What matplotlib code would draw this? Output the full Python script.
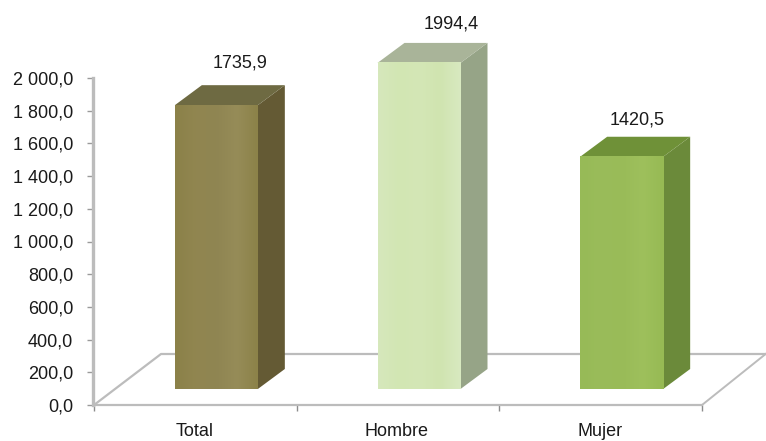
import matplotlib
matplotlib.use('Agg')
import numpy as np
import matplotlib.pyplot as plt
from matplotlib.colors import LinearSegmentedColormap
from matplotlib.patches import Polygon

plt.rcParams['font.family'] = ['Liberation Sans Narrow', 'Liberation Sans', 'DejaVu Sans']

categories = ['Total', 'Hombre', 'Mujer']
values = [1735.9, 1994.4, 1420.5]
yticks = [0, 200, 400, 600, 800, 1000, 1200, 1400, 1600, 1800, 2000]

# light/dark shades per bar
front_colors = [['#8b8149', '#918650', '#8f8552', '#968c58', '#8c8249'],
                ['#d6e8bc', '#d2e6b3', '#d4e7b6', '#d0e4b0', '#d8e9c0'],
                ['#97ba57', '#9abc5a', '#99bb58', '#9ec05c', '#97ba54']]
side_colors = ['#645a34', '#96a487', '#6b8a3a']
top_colors = ['#6e6a42', '#a9b499', '#6f9138']
label_offsets = [(24, 42), (32, 39), (15, 37)]

fig = plt.figure(figsize=(7.66, 4.41), dpi=100)
ax = fig.add_axes([94 / 766, 1 - 405 / 441, 608 / 766, 327 / 441])
ax.set_xlim(-0.5, 2.5)
ax.set_ylim(0, 2000)

# px -> data
px_x = 3 / 608
px_y = 2000 / 327
lift = 16 * px_y
shift = 21 * px_x
half = 41.5 * px_x
dx = 27 * px_x
dy = 20 * px_y

# floor of the 3d box
line_col = '#bcbcbc'
fx = 67 * px_x
fy = 51 * px_y
ax.plot([-0.5, -0.5 + fx, 2.5 + fx * 0.95], [0, fy, fy], color=line_col, lw=1.6, clip_on=False, zorder=1)
ax.plot([2.5, 2.5 + fx * 0.95], [0, fy], color=line_col, lw=1.4, clip_on=False, zorder=1)

for i, v in enumerate(values):
    x0 = i + shift - half
    x1 = i + shift + half
    y0 = lift
    y1 = lift + v
    cmap = LinearSegmentedColormap.from_list('b%d' % i, front_colors[i])
    ax.bar(i + shift, v, width=2 * half, bottom=lift, color=front_colors[i][1], zorder=3, clip_on=False)
    ax.imshow(np.linspace(0, 1, 60).reshape(1, -1), extent=[x0, x1, y0, y1], aspect='auto',
              cmap=cmap, zorder=3.1, clip_on=False)
    ax.add_patch(Polygon([[x1, y0], [x1 + dx, y0 + dy], [x1 + dx, y1 + dy], [x1, y1]],
                         facecolor=side_colors[i], edgecolor='none', zorder=3, clip_on=False))
    ax.add_patch(Polygon([[x0, y1], [x0 + dx, y1 + dy], [x1 + dx, y1 + dy], [x1, y1]],
                         facecolor=top_colors[i], edgecolor='none', zorder=3, clip_on=False))
    ax.annotate(('%.1f' % v).replace('.', ','), (i + shift, y1), xytext=label_offsets[i],
                textcoords='offset pixels', ha='center', va='center', fontsize=13, color='#1a1a1a',
                annotation_clip=False)

ax.set_xlim(-0.5, 2.5)
ax.set_ylim(0, 2000)

for s in ['top', 'right']:
    ax.spines[s].set_visible(False)
for s in ['left', 'bottom']:
    ax.spines[s].set_color(line_col)
    ax.spines[s].set_zorder(4)
ax.spines['left'].set_linewidth(2.4)
ax.spines['left'].set_position(('outward', 1))
ax.spines['bottom'].set_linewidth(1.6)

ax.set_yticks(yticks)
ax.set_yticklabels([('%d %03d,0' % (t // 1000, t % 1000)) if t >= 1000 else '%d,0' % t for t in yticks])
ax.set_xticks([-0.5, 0.5, 1.5, 2.5])
ax.set_xticklabels([])
ax.tick_params(axis='y', length=4.5, width=1, color='#9a9a9a', labelsize=13, labelcolor='#1a1a1a', pad=9.5)
ax.tick_params(axis='x', length=4.5, width=1, color='#8c8c8c')
for i, c in enumerate(categories):
    ax.annotate(c, (i, 0), xytext=(-1, -26), textcoords='offset pixels', ha='center', va='center',
                fontsize=13, color='#1a1a1a', annotation_clip=False)

fig.savefig('out.png', dpi=100)
